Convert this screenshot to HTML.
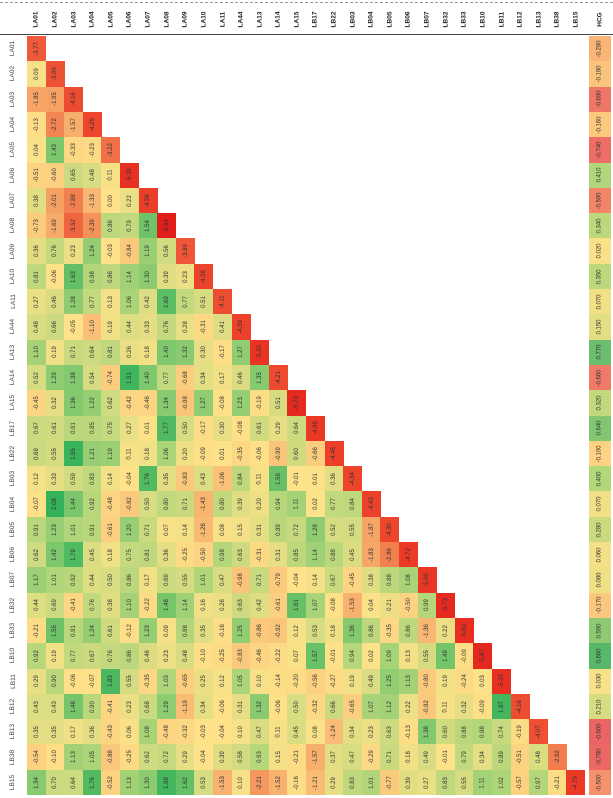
<!DOCTYPE html>
<html><head><meta charset="utf-8">
<style>
html,body{margin:0;padding:0;background:#fff;}
#c{position:relative;width:613px;height:798px;overflow:hidden;font-family:"Liberation Sans",sans-serif;}
.cell{position:absolute;display:flex;align-items:center;justify-content:center;}
.t{transform:rotate(-90deg);white-space:nowrap;font-size:6px;color:#333;}
.h{position:absolute;display:flex;align-items:center;justify-content:center;}
.h span{transform:rotate(-90deg);white-space:nowrap;font-size:6.5px;font-weight:bold;color:#222;}
.r span{font-weight:normal;color:#444;font-size:6.5px}
</style></head><body><div id="c">
<div style="position:absolute;left:0;top:2px;width:613px;border-top:1px dashed #999"></div>
<div style="position:absolute;left:0;top:34px;width:613px;border-top:1.5px solid #444"></div>
</div>
<script>
var labs=["LA01","LA02","LA03","LA04","LA05","LA06","LA07","LA08","LA09","LA10","LA11","LA44","LA13","LA14","LA15","LB17","LB22","LB03","LB04","LB05","LB06","LB07","LB32","LB33","LB10","LB11","LB12","LB13","LB38","LB15"];
var D=[
[-3.77],
[0.09,-3.99],
[-1.85,-1.95,-4.16],
[-0.13,-2.72,-1.57,-4.29],
[0.04,1.43,-0.33,-0.23,-3.22],
[-0.51,-0.60,0.65,0.48,0.11,-5.39],
[0.38,-2.01,-2.88,-1.33,0.00,0.22,-4.56],
[-0.73,-1.69,-3.52,-2.39,0.86,0.79,1.54,-6.54],
[0.36,0.76,0.23,1.24,-0.03,-0.84,1.19,0.56,-3.89],
[0.81,-0.06,1.63,0.98,0.86,1.14,1.30,0.39,0.23,-4.38],
[0.27,0.46,1.28,0.77,0.13,1.06,0.42,1.69,0.77,0.51,-4.11],
[0.48,0.66,-0.05,-1.10,0.19,0.44,0.33,0.76,0.28,-0.31,0.41,-4.39],
[1.10,0.19,0.71,0.64,0.81,0.26,0.18,1.40,1.32,0.30,-0.17,1.27,-5.20],
[0.52,1.29,1.38,0.54,-0.74,1.91,1.40,0.77,-0.68,0.34,0.17,0.46,1.35,-4.21],
[-0.45,0.32,1.36,1.22,0.62,-0.42,-0.46,1.34,-0.98,1.27,-0.08,1.23,-0.19,0.51,-5.73],
[0.67,0.61,0.91,0.85,0.75,0.27,0.01,1.77,0.50,-0.17,0.30,-0.08,0.61,0.29,0.64,-4.89],
[0.69,0.55,1.95,1.21,1.19,0.11,0.18,1.06,0.20,-0.09,0.01,-0.35,-0.06,-0.99,0.60,-0.66,-4.45],
[0.12,0.33,0.59,0.83,0.14,-0.04,1.76,0.35,-0.83,0.43,-1.06,0.84,0.11,1.58,-0.01,0.01,0.36,-4.34],
[-0.07,2.08,1.44,0.92,-0.48,-0.82,0.50,0.80,0.71,-1.43,0.80,0.39,0.20,0.94,1.11,0.02,0.77,0.84,-4.43],
[0.91,1.23,1.01,0.91,-0.61,1.20,0.71,0.07,0.14,-1.26,0.08,0.15,0.31,0.89,0.72,1.28,0.52,0.55,-1.87,-4.30],
[0.62,1.42,1.79,0.45,0.18,0.75,0.81,0.36,-0.25,-0.50,0.98,0.63,-0.31,0.31,0.85,1.14,0.88,0.45,-1.83,-2.86,-4.72],
[1.17,1.01,0.92,0.44,0.50,0.86,0.17,0.69,0.55,1.01,0.47,-0.98,0.71,-0.79,-0.04,0.14,0.67,-0.45,0.38,0.88,1.08,-5.00],
[0.44,0.69,-0.41,0.76,0.38,1.10,-0.22,1.48,1.14,0.16,0.26,0.63,0.42,-0.61,1.61,1.07,-0.08,-1.53,0.04,0.21,-0.50,0.99,-5.73],
[-0.21,1.55,0.91,1.24,0.61,-0.12,1.23,0.09,0.98,0.35,-0.16,1.25,-0.86,-0.92,0.12,0.53,0.18,1.36,0.86,-0.35,0.86,-1.36,0.22,-5.50],
[0.92,0.19,0.77,0.67,0.76,0.86,0.46,0.23,0.48,-0.10,-0.25,-0.83,-0.46,-0.22,0.07,1.57,-0.01,0.94,0.02,1.09,0.13,0.55,1.49,-0.09,-5.87],
[0.29,0.90,-0.06,-0.07,1.83,0.55,-0.35,1.03,-0.65,0.25,0.12,1.05,0.10,-0.14,-0.20,-0.56,-0.27,0.19,0.49,1.25,1.13,-0.80,0.19,-0.24,0.03,-5.35],
[0.43,0.43,1.48,0.90,-0.41,0.23,0.68,1.29,-1.19,0.34,-0.06,0.31,1.32,-0.06,0.50,-0.32,0.66,-0.65,1.07,1.12,0.22,-0.82,0.11,0.32,-0.09,1.87,-4.16],
[0.35,0.35,0.17,0.36,-0.43,0.06,1.08,-0.48,-0.32,-0.03,-0.04,0.10,0.47,0.11,0.45,0.08,-1.24,0.34,0.23,0.63,-0.13,1.38,0.60,0.88,0.98,0.74,-0.19,-4.07],
[-0.54,-0.10,1.13,1.05,-0.88,-0.25,0.62,0.72,0.29,-0.04,0.39,0.58,0.93,0.15,-0.21,-1.57,0.37,0.47,-0.29,0.71,0.18,0.49,-0.01,0.79,0.34,0.89,-0.51,0.48,-2.92],
[1.34,0.70,0.64,1.76,-0.52,1.13,1.30,1.88,1.62,0.53,-1.53,0.10,-2.21,-1.52,-0.16,-1.21,0.29,0.83,1.01,-0.77,0.39,0.27,0.83,0.55,1.11,1.02,-0.57,0.97,-0.21,-4.79]
];
var H=[-0.28,-0.18,-0.69,-0.16,-0.74,0.41,-0.59,0.34,0.02,0.35,0.07,0.15,0.77,-0.66,0.32,0.64,-0.10,0.40,0.07,0.28,0.06,0.08,-0.17,0.59,0.86,0.03,0.21,-0.80,-0.78,-0.50];
function lerp(a,b,t){return a.map(function(x,i){return Math.round(x+(b[i]-x)*t);});}
function scale(stops,v){for(var i=0;i<stops.length-1;i++){var a=stops[i],b=stops[i+1];if(v<=b[0]){var t=(v-a[0])/(b[0]-a[0]);return lerp(a[1],b[1],Math.max(0,Math.min(1,t)));}}return stops[stops.length-1][1];}
var S=[[-6.5,[226,30,26]],[-4.5,[236,62,40]],[-2.5,[243,142,88]],[-1,[250,196,122]],[0,[254,226,137]],[1,[178,214,122]],[2,[52,178,90]]];
var SH=[[-0.8,[236,100,100]],[-0.4,[248,160,110]],[0,[254,226,137]],[0.4,[178,214,122]],[0.86,[88,184,106]]];
var c=document.getElementById('c');
var x0=27,cw=18.6,y0=36,rh=25.3;
function add(cls,l,t,w,h,bg,txt){var d=document.createElement('div');d.className=cls;d.style.left=l+'px';d.style.top=t+'px';d.style.width=w+'px';d.style.height=h+'px';if(bg)d.style.background=bg;var s=document.createElement('span');if(cls=='cell')s.className='t';s.textContent=txt;d.appendChild(s);c.appendChild(d);}
for(var j=0;j<30;j++)add('h',x0+j*cw,6,cw,26,null,labs[j]);
add('h',589,6,22,26,null,'HCG');
for(var i=0;i<30;i++){
 add('h r',2,y0+i*rh,22,rh,null,labs[i]);
 for(var j=0;j<D[i].length;j++){var v=D[i][j];var col=scale(S,v);
  add('cell',x0+j*cw,y0+i*rh,cw+0.5,rh+0.5,'rgb('+col+')',v.toFixed(2));}
 var hv=H[i],hc=scale(SH,hv);
 add('cell',589,y0+i*rh,22,rh+0.5,'rgb('+hc+')',hv.toFixed(3));
}
</script>
</body></html>
